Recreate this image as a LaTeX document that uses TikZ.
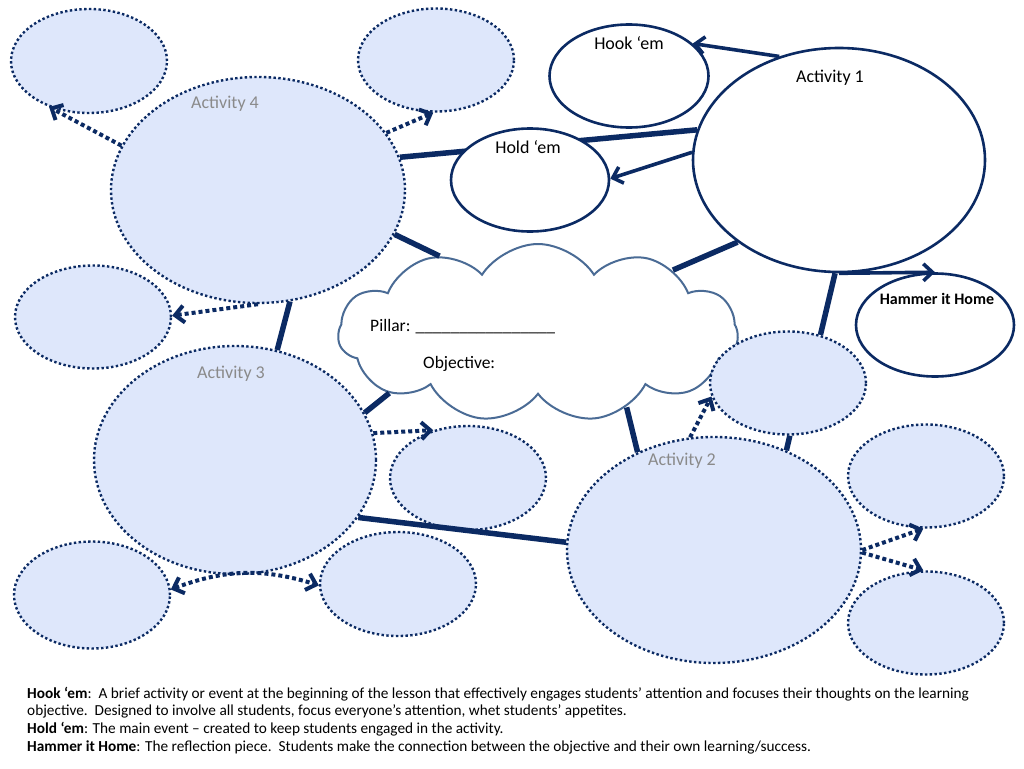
\documentclass[tikz,border=0pt]{standalone}
\usepackage{fontspec}
\setmainfont{Carlito}
\usetikzlibrary{arrows.meta}
\usetikzlibrary{shapes.geometric,shapes.symbols}
\usetikzlibrary{backgrounds}
\definecolor{navy}{HTML}{0B2A63}
\definecolor{paleblue}{HTML}{DEE7FB}
\definecolor{cloudline}{HTML}{4A6B95}
\definecolor{greylabel}{HTML}{8A8A8A}
\tikzset{>={Straight Barb[length=9pt,width=17pt]}}
\tikzset{spot/.style={ellipse, draw=navy, line width=2.6pt, fill=white, inner sep=0pt}}
\tikzset{blob/.style={ellipse, draw=navy, fill=paleblue, line width=2.4pt,
    dash pattern=on 2.4pt off 2.4pt, inner sep=0pt}}
\tikzset{link/.style={draw=navy, line width=5.5pt}}
\tikzset{lead/.style={->, draw=navy, line width=3.6pt}}
\tikzset{dotlead/.style={->, draw=navy, line width=4pt, dash pattern=on 4pt off 3pt}}
\tikzset{title/.style={anchor=base, inner sep=0pt, font=\fontsize{18}{20}\selectfont}}
\tikzset{ghost/.style={title, text=greylabel}}
\tikzset{note/.style={anchor=base west, inner sep=0pt, font=\fontsize{15.3}{18}\selectfont}}

\begin{document}
\begin{tikzpicture}[x=1pt, y=-1pt]
      \useasboundingbox (0,0) rectangle (1024,768);

      % centre cloud
      \node[cloud, draw=cloudline, line width=2pt, fill=white, cloud puffs=11,
        cloud puff arc=115, aspect=2.25, minimum width=400, minimum height=178,
        inner sep=0pt] (pillar) at (538,333) {};

      % activity 1 and its three parts
      \node[spot, minimum width=292, minimum height=224] (act1) at (839,160) {};
      \node[spot, minimum width=159, minimum height=103] (hook) at (629,76) {};
      \node[spot, minimum width=158, minimum height=103] (hold) at (530,180) {};
      \node[spot, minimum width=158, minimum height=103] (hammer) at (935,325) {};

      % activities 2, 3, 4 with their bubbles
      \node[blob, minimum width=294, minimum height=226] (act4) at (258,190) {};
      \node[blob, minimum width=156, minimum height=104] (tl1) at (89,61) {};
      \node[blob, minimum width=156, minimum height=103] (tr4) at (436,60) {};
      \node[blob, minimum width=156, minimum height=103] (l4) at (93,317) {};

      \node[blob, minimum width=282, minimum height=228] (act3) at (235,460) {};
      \node[blob, minimum width=156, minimum height=104] (r3) at (468,478) {};
      \node[blob, minimum width=156, minimum height=107] (bl3) at (92,595) {};
      \node[blob, minimum width=156, minimum height=104] (bm3) at (398,584) {};

      \node[blob, minimum width=294, minimum height=226] (act2) at (714,550) {};
      \node[blob, minimum width=156, minimum height=103] (u2) at (788,383) {};
      \node[blob, minimum width=156, minimum height=103] (r2a) at (926,476) {};
      \node[blob, minimum width=156, minimum height=103] (r2b) at (926,623) {};

      % labels
      \node[title] (hooktxt) at (629,49) {Hook ‘em};
      \node[title] (act1txt) at (830,82) {Activity 1};
      \node[title] (holdtxt) at (528,153) {Hold ‘em};
      \node[title, font=\bfseries\fontsize{16}{18}\selectfont] (hammertxt) at (937,304) {Hammer it Home};
      \node[ghost] (act4txt) at (225,108) {Activity 4};
      \node[ghost] (act3txt) at (231,378) {Activity 3};
      \node[ghost] (act2txt) at (682,465) {Activity 2};

      \node[anchor=base west, inner sep=0pt, font=\fontsize{17.5}{20}\selectfont]
        (pillartxt) at (370,331) {Pillar: \_\_\_\_\_\_\_\_\_\_\_\_\_\_\_\_};
      \node[anchor=base west, inner sep=0pt, font=\fontsize{17.5}{20}\selectfont]
        (objtxt) at (423,368) {Objective:};

      % links
      \begin{scope}[on background layer]
        \draw[link] (act4.13) -- (act1.168);
      \end{scope}
      \draw[link] (act4.-18) -- (pillar.142);
      \draw[link] (act1.219) -- (pillar.25);
      \draw[link] (act4.286) -- (act3.69);
      \draw[link] (pillar.202) -- (act3.20);
      \draw[link] (act3.335) -- (act2.177);
      \draw[link] (pillar.320) -- (act2.128);
      \draw[link] (act1.268) -- (u2.56);
      \draw[link] (u2.272) -- (act2.54);

      \draw[lead] (act1.120) -- (hook.27);
      \draw[lead] (act1.177) -- (hold.1);
      \draw[lead] (act1.south) -- (hammer.north);

      \draw[dotlead] (act4.162) -- (tl1.229);
      \draw[dotlead] (act4.24) -- (tr4.267);
      \draw[dotlead] (act4.south) -- (l4.1);
      \draw[dotlead] (act3.11) -- (r3.126);
      \draw[dotlead, <->] (bl3.4) to[bend left=19] (bm3.181);
      \draw[dotlead] (act2.102) -- (u2.190);
      \draw[dotlead] (act2.0) -- (r2a.267);
      \draw[dotlead] (act2.359) -- (r2b.93);

      % notes
      \node[note] (note1) at (27,698) {\textbf{Hook ‘em}:\ \ A brief activity or event at the beginning of the lesson that effectively engages students’ attention and focuses their thoughts on the learning};
      \node[note] (note2) at (27,715) {objective.\ \ Designed to involve all students, focus everyone’s attention, whet students’ appetites.};
      \node[note] (note3) at (27,733) {\textbf{Hold ‘em}: The main event – created to keep students engaged in the activity.};
      \node[note] (note4) at (27,751) {\textbf{Hammer it Home}: The reflection piece.\ \ Students make the connection between the objective and their own learning/success.};
\end{tikzpicture}
\end{document}
